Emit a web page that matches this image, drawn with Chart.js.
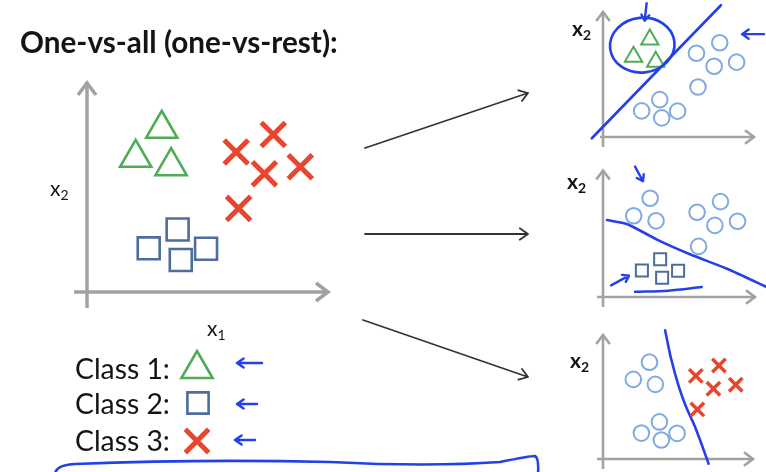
<!DOCTYPE html>
<html>
<head>
<meta charset="utf-8">
<script src="https://cdn.jsdelivr.net/npm/chart.js@4/dist/chart.umd.min.js"></script>
<style>
  html, body { margin: 0; padding: 0; background: #fff; }
  #wrap { position: relative; width: 766px; height: 472px; overflow: hidden; }
  canvas { position: absolute; }
</style>
</head>
<body>
<div id="wrap">
  <canvas id="main" width="766" height="472" style="left:0;top:0"></canvas>
  <canvas id="c1" width="226" height="160" style="left:540px;top:0"></canvas>
  <canvas id="c2" width="226" height="152" style="left:540px;top:160px"></canvas>
  <canvas id="c3" width="226" height="152" style="left:540px;top:320px"></canvas>
</div>
<script>
// training points, (x1, x2) per class
const class1X = [3.10, 2.02, 3.49];
const class1Y = [7.81, 6.42, 6.02];
const class2X = [3.76, 2.56, 3.89, 4.94];
const class2Y = [2.99, 2.09, 1.53, 2.07];
const class3X = [7.73, 6.19, 7.36, 8.85, 6.29];
const class3Y = [7.54, 6.70, 5.66, 5.99, 4.00];

// hand drawn decision boundaries of the three one-vs-rest classifiers
const bound1X = [-0.74, 7.81];
const bound1Y = [-0.10, 10.54];
const bound2X = [0.26, 1.58, 3.55, 5.72, 8.16, 10.79];
const bound2Y = [6.08, 5.77, 4.54, 3.38, 2.23, 0.77];
const bound3X = [4.14, 4.54, 5.07, 5.53, 6.18, 7.04];
const bound3Y = [10.38, 8.08, 5.77, 4.23, 2.46, -0.38];
// underline below class 2 in the middle plot
const underX = [2.11, 4.30, 6.49];
const underY = [0.41, 0.50, 0.79];

const titleText = 'One-vs-all (one-vs-rest):';
const classNames = ['Class 1:', 'Class 2:', 'Class 3:'];

const GREEN = '#4fae55';
const SQUARE = '#4d6d9b';
const RED = '#e8452f';
const LIGHT = '#7faae2';
const PEN = '#2341e6';
const AXIS = '#a2a2a2';
const INK = '#141414';
const FONT = 'Lato, "Open Sans", sans-serif';

const pts = (xs, ys) => xs.map((x, i) => ({ x: x, y: ys[i] }));

function markerSet(data, style, r, bw, color) {
    return {
        data: data,
        pointStyle: style,
        pointRadius: r,
        pointHoverRadius: r,
        pointBorderWidth: bw,
        borderWidth: bw,
        pointBorderColor: color,
        borderColor: color,
        pointBackgroundColor: 'rgba(0,0,0,0)',
        backgroundColor: 'rgba(0,0,0,0)',
        clip: false
    };
}

function penLine(data, tension) {
    return {
        data: data,
        showLine: true,
        borderColor: PEN,
        borderWidth: 2.6,
        borderCapStyle: 'round',
        pointRadius: 0,
        tension: tension,
        clip: false
    };
}

function arrow(ctx, x1, y1, x2, y2, head, color, width) {
    const a = Math.atan2(y2 - y1, x2 - x1);
    ctx.save();
    ctx.strokeStyle = color;
    ctx.lineWidth = width;
    ctx.lineCap = 'round';
    ctx.lineJoin = 'round';
    ctx.beginPath();
    ctx.moveTo(x1, y1);
    ctx.lineTo(x2, y2);
    ctx.moveTo(x2 - head * Math.cos(a - 0.6), y2 - head * Math.sin(a - 0.6));
    ctx.lineTo(x2, y2);
    ctx.lineTo(x2 - head * Math.cos(a + 0.6), y2 - head * Math.sin(a + 0.6));
    ctx.stroke();
    ctx.restore();
}

// axes with arrow heads, drawn from the chart area
function drawAxes(chart, down, left, width, head) {
    const { ctx, chartArea: a } = chart;
    ctx.save();
    ctx.strokeStyle = AXIS;
    ctx.lineWidth = width;
    ctx.lineCap = 'butt';
    ctx.beginPath();
    ctx.moveTo(a.left, a.bottom + down);
    ctx.lineTo(a.left, a.top + 1);
    ctx.moveTo(a.left - left, a.bottom);
    ctx.lineTo(a.right - 1, a.bottom);
    ctx.stroke();
    ctx.lineJoin = 'miter';
    ctx.beginPath();
    ctx.moveTo(a.left - head * 0.75, a.top + head);
    ctx.lineTo(a.left, a.top);
    ctx.lineTo(a.left + head * 0.75, a.top + head);
    ctx.moveTo(a.right - head, a.bottom - head * 0.75);
    ctx.lineTo(a.right, a.bottom);
    ctx.lineTo(a.right - head, a.bottom + head * 0.75);
    ctx.stroke();
    ctx.restore();
}

function subLabel(ctx, main, sub, x, y, size, weight) {
    ctx.save();
    ctx.fillStyle = INK;
    ctx.textBaseline = 'middle';
    ctx.textAlign = 'left';
    ctx.font = weight + ' ' + size + 'px ' + FONT;
    ctx.fillText(main, x, y);
    const w = ctx.measureText(main).width;
    ctx.font = weight + ' ' + Math.round(size * 0.65) + 'px ' + FONT;
    ctx.fillText(sub, x + w, y + size * 0.3);
    ctx.restore();
}

function fitFont(ctx, text, weight, width) {
    ctx.font = weight + ' 100px ' + FONT;
    const size = 100 * width / ctx.measureText(text).width;
    return weight + ' ' + size.toFixed(1) + 'px ' + FONT;
}

function marker(ctx, style, r, bw, color, x, y) {
    ctx.save();
    ctx.strokeStyle = color;
    ctx.fillStyle = 'rgba(0,0,0,0)';
    ctx.lineWidth = bw;
    Chart.helpers.drawPoint(ctx, { pointStyle: style, radius: r, borderWidth: bw, rotation: 0 }, x, y);
    ctx.restore();
}

const mainDecor = {
    id: 'mainDecor',
    beforeDraw(chart) {
        const ctx = chart.ctx;
        ctx.save();
        ctx.fillStyle = '#fff';
        ctx.fillRect(0, 0, chart.width, chart.height);
        ctx.restore();
    },
    beforeDatasetsDraw(chart) {
        drawAxes(chart, 16, 13, 3.5, 12);
    },
    afterDraw(chart) {
        const ctx = chart.ctx;
        const a = chart.chartArea;
        ctx.save();
        // title
        ctx.fillStyle = INK;
        ctx.textBaseline = 'alphabetic';
        ctx.font = fitFont(ctx, titleText, 'bold', 318);
        ctx.fillText(titleText, 20, 53);
        // axis labels
        subLabel(ctx, 'x', '2', a.left - 37, 189, 21, 'normal');
        subLabel(ctx, 'x', '1', 207, 329, 21, 'normal');
        // legend
        ctx.textBaseline = 'middle';
        ctx.fillStyle = INK;
        ctx.font = fitFont(ctx, classNames[0], 'normal', 95);
        const rows = [370, 405, 442];
        classNames.forEach((t, i) => ctx.fillText(t, 75, rows[i]));
        marker(ctx, 'triangle', 18, 2.6, GREEN, 197, 369);
        marker(ctx, 'rect', 15, 2.6, SQUARE, 198, 403);
        marker(ctx, 'crossRot', 16.5, 5, RED, 197, 441);
        arrow(ctx, 262, 363, 237, 363, 8, PEN, 2.4);
        arrow(ctx, 257, 404, 237, 404, 8, PEN, 2.4);
        arrow(ctx, 255, 440, 235, 440, 8, PEN, 2.4);
        // long pen stroke at the bottom
        ctx.strokeStyle = PEN;
        ctx.lineWidth = 2.6;
        ctx.lineCap = 'round';
        ctx.lineJoin = 'round';
        ctx.beginPath();
        ctx.moveTo(55, 474);
        ctx.quadraticCurveTo(56, 465, 75, 464);
        ctx.quadraticCurveTo(200, 459, 330, 462);
        ctx.quadraticCurveTo(430, 467, 500, 462);
        ctx.quadraticCurveTo(530, 456, 535, 456);
        ctx.quadraticCurveTo(539, 458, 538, 474);
        ctx.stroke();
        // connector arrows to the three binary problems
        arrow(ctx, 365, 148, 528, 93, 10, '#333', 1.8);
        arrow(ctx, 365, 234, 528, 234, 10, '#333', 1.8);
        arrow(ctx, 363, 320, 528, 377, 10, '#333', 1.8);
        ctx.restore();
    }
};

function smallDecor(labelX, labelY, down, left, extra) {
    return {
        id: 'smallDecor',
        beforeDatasetsDraw(chart) {
            drawAxes(chart, down, left, 2.6, 9);
        },
        afterDraw(chart) {
            const ctx = chart.ctx;
            subLabel(ctx, 'x', '2', labelX, labelY, 21, 'bold');
            if (extra) extra(chart, ctx);
        }
    };
}

function smallChart(id, datasets, pad, decor) {
    return new Chart(document.getElementById(id), {
        type: 'scatter',
        data: { datasets: datasets },
        options: {
            responsive: false,
            animation: false,
            events: [],
            layout: { padding: pad },
            scales: {
                x: { display: false, min: 0, max: 10 },
                y: { display: false, min: 0, max: 10 }
            },
            plugins: { legend: { display: false }, tooltip: { enabled: false } }
        },
        plugins: [decor]
    });
}

// main picture
new Chart(document.getElementById('main'), {
    type: 'scatter',
    data: {
        datasets: [
            markerSet(pts(class1X, class1Y), 'triangle', 18, 2.6, GREEN),
            markerSet(pts(class2X, class2Y), 'rect', 15.5, 2.6, SQUARE),
            markerSet(pts(class3X, class3Y), 'crossRot', 17, 5, RED)
        ]
    },
    options: {
        responsive: false,
        animation: false,
        events: [],
        layout: { padding: { left: 87, top: 83, right: 438, bottom: 180 } },
        scales: {
            x: { display: false, min: 0, max: 10 },
            y: { display: false, min: 0, max: 10 }
        },
        plugins: { legend: { display: false }, tooltip: { enabled: false } }
    },
    plugins: [mainDecor]
});

const rest1 = pts(class2X.concat(class3X), class2Y.concat(class3Y));
const rest2 = pts(class1X.concat(class3X), class1Y.concat(class3Y));
const rest3 = pts(class1X.concat(class2X), class1Y.concat(class2Y));

// class 1 vs rest
smallChart('c1', [
    markerSet(rest1, 'circle', 7.8, 2, LIGHT),
    markerSet(pts(class1X, class1Y), 'triangle', 10, 2, GREEN),
    penLine(pts(bound1X, bound1Y), 0)
], { left: 63, right: 11, top: 7, bottom: 23 }, smallDecor(32, 29, 10, 3, (chart, ctx) => {
    const sx = chart.scales.x, sy = chart.scales.y;
    const cx = sx.getPixelForValue(2.6), cy = sy.getPixelForValue(7.35);
    const rx = sx.getPixelForValue(2.6 + 2.14) - cx;
    const ry = cy - sy.getPixelForValue(7.35 + 2.19);
    ctx.save();
    ctx.strokeStyle = PEN;
    ctx.lineWidth = 2.6;
    ctx.beginPath();
    ctx.ellipse(cx, cy, rx, ry, -0.1, 0, Math.PI * 2);
    ctx.stroke();
    ctx.restore();
    arrow(ctx, sx.getPixelForValue(2.89), sy.getPixelForValue(10.7), sx.getPixelForValue(2.76), sy.getPixelForValue(9.31), 7, PEN, 2.4);
    arrow(ctx, sx.getPixelForValue(10.66), sy.getPixelForValue(8.23), sx.getPixelForValue(9.21), sy.getPixelForValue(8.23), 8, PEN, 2.4);
}));

// class 2 vs rest
smallChart('c2', [
    markerSet(rest2, 'circle', 7.8, 2, LIGHT),
    markerSet(pts(class2X, class2Y), 'rect', 8.5, 2, SQUARE),
    penLine(pts(bound2X, bound2Y), 0.2),
    penLine(pts(underX, underY), 0.3)
], { left: 63, right: 11, top: 7, bottom: 15 }, smallDecor(27, 22, 10, 6, (chart, ctx) => {
    const sx = chart.scales.x, sy = chart.scales.y;
    arrow(ctx, sx.getPixelForValue(2.11), sy.getPixelForValue(10.31), sx.getPixelForValue(2.63), sy.getPixelForValue(9.15), 7, PEN, 2.4);
    arrow(ctx, sx.getPixelForValue(0.53), sy.getPixelForValue(0.92), sx.getPixelForValue(1.71), sy.getPixelForValue(1.69), 7, PEN, 2.4);
}));

// class 3 vs rest
smallChart('c3', [
    markerSet(rest3, 'circle', 7.8, 2, LIGHT),
    markerSet(pts(class3X, class3Y), 'crossRot', 9.5, 3.5, RED),
    penLine(pts(bound3X, bound3Y), 0.3)
], { left: 63, right: 11, top: 15, bottom: 7 }, smallDecor(30, 41, 10, 6, null));
</script>
</body>
</html>
